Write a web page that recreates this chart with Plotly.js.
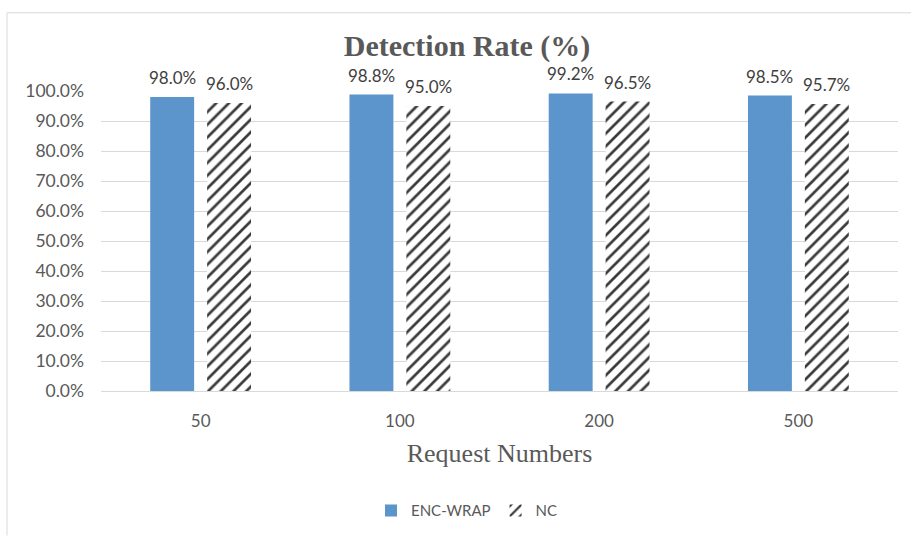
<!DOCTYPE html>
<html>
<head>
<meta charset="utf-8">
<script src="https://cdn.plot.ly/plotly-3.0.1.min.js"></script>
<style>
html,body{margin:0;padding:0;background:#fff;}
#chart{width:911px;height:540px;}
</style>
</head>
<body>
<div id="chart"></div>
<script>
const categories = ["50", "100", "200", "500"];
const encWrap = [98.0, 98.8, 99.2, 98.5];
const nc = [96.0, 95.0, 96.5, 95.7];
const seriesNames = ["ENC-WRAP", "NC"];
const yTickVals = [0, 10, 20, 30, 40, 50, 60, 70, 80, 90, 100];
const yTickText = yTickVals.map(v => v.toFixed(1) + "%");

const W = 911, H = 540;
const mL = 101, mR = 13, mT = 91, mB = 146;
const pw = W - mL - mR, ph = H - mT - mB;
const px = v => (v - mL) / pw;
const py = v => (H - mB - v) / ph;

const labelFont = {family: "Lato, 'Liberation Sans', sans-serif", size: 17, color: "#404040"};

const traces = [
  {
    type: "bar", name: seriesNames[0], x: categories, y: encWrap,
    marker: {color: "#5B95CB", line: {width: 0}},
    hoverinfo: "x+y"
  },
  {
    type: "bar", name: seriesNames[1], x: categories, y: nc,
    marker: {color: "#ffffff", line: {width: 0},
      pattern: {shape: "/", fgcolor: "#3a3a3a", bgcolor: "#ffffff", size: 9, solidity: 0.3}},
    hoverinfo: "x+y"
  }
];

const annotations = [];
const off = 28.5;
[encWrap, nc].forEach((arr, s) => {
  arr.forEach((v, i) => {
    annotations.push({
      x: i, y: v, xref: "x", yref: "y",
      text: v.toFixed(1) + "%", showarrow: false,
      xanchor: "center", yanchor: "bottom",
      xshift: s === 0 ? -off : off, yshift: 7,
      font: labelFont
    });
  });
});

const shapes = [
  {type: "line", xref: "paper", yref: "paper", x0: px(7), x1: px(7), y0: py(12), y1: py(540), line: {color: "#D9D9D9", width: 1}},
  {type: "line", xref: "paper", yref: "paper", x0: px(7), x1: px(911), y0: py(12), y1: py(12), line: {color: "#D9D9D9", width: 1}}
];

const layout = {
  width: W, height: H,
  margin: {l: mL, r: mR, t: mT, b: mB, pad: 0},
  paper_bgcolor: "#ffffff", plot_bgcolor: "#ffffff",
  title: {
    text: "<b>Detection Rate (%)</b>",
    font: {family: "'Liberation Serif', 'Times New Roman', serif", size: 30, color: "#595959"},
    x: 467 / W, xanchor: "center", xref: "container",
    y: 1 - 45 / H, yanchor: "middle", yref: "container"
  },
  barmode: "group", bargap: 0.429, bargroupgap: 0.228,
  xaxis: {
    type: "category", categoryorder: "array", categoryarray: categories,
    range: [-0.5, categories.length - 0.5], autorange: false,
    showgrid: false, showline: true, linecolor: "#D9D9D9", linewidth: 1,
    ticks: "", ticklabelstandoff: 15,
    tickfont: {family: "Lato, 'Liberation Sans', sans-serif", size: 17, color: "#595959"},
    title: {text: "Request Numbers", standoff: 13,
      font: {family: "'Liberation Serif', 'Times New Roman', serif", size: 26, color: "#595959"}}
  },
  yaxis: {
    range: [0, 100], autorange: false, tickvals: yTickVals, ticktext: yTickText,
    showgrid: true, gridcolor: "#D9D9D9", gridwidth: 1,
    zeroline: false, showline: false, ticks: "", ticklabelstandoff: 16,
    tickfont: {family: "Lato, 'Liberation Sans', sans-serif", size: 17.5, color: "#595959"}
  },
  showlegend: true,
  legend: {
    orientation: "h", x: px(467), xanchor: "center", y: py(515), yanchor: "middle",
    font: {family: "Lato, 'Liberation Sans', sans-serif", size: 15, color: "#595959"},
    traceorder: "normal"
  },
  annotations: annotations,
  shapes: shapes
};

Plotly.newPlot("chart", traces, layout, {displayModeBar: false, staticPlot: true});
</script>
</body>
</html>
